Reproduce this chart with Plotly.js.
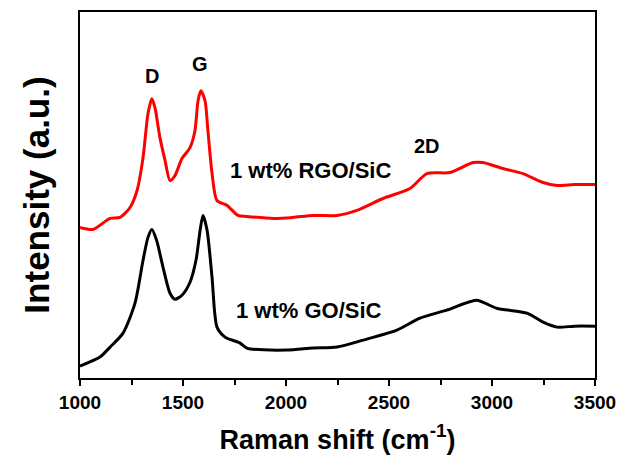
<!DOCTYPE html>
<html>
<head>
<meta charset="utf-8">
<script src="https://cdn.plot.ly/plotly-3.0.1.min.js"></script>
<style>html,body{margin:0;padding:0;background:#fff;}#chart{width:626px;height:470px;}</style>
</head>
<body>
<div id="chart"></div>
<script>
// Raman shift (cm^-1) and intensity (a.u.)
const rgoShift = [1000, 1063, 1146, 1194, 1243, 1277, 1306, 1330, 1349, 1364, 1388, 1413, 1437, 1461, 1495, 1534, 1558, 1573, 1587, 1607, 1621, 1641, 1665, 1714, 1767, 1810, 1938, 2034, 2131, 2248, 2344, 2471, 2602, 2684, 2796, 2908, 2956, 3053, 3150, 3248, 3316, 3400, 3500];
const rgoIntensity = [151, 149, 160, 161, 171, 188, 221, 265, 280, 271, 241, 218, 198, 203, 220, 231, 248, 278, 288, 278, 248, 205, 178, 173, 163, 162, 160, 161, 163, 163, 168, 180, 190, 205, 206, 216, 216, 210, 205, 196, 193, 194, 194];

const goShift = [1000, 1097, 1146, 1209, 1267, 1306, 1330, 1349, 1372, 1403, 1437, 1461, 1495, 1534, 1563, 1583, 1597, 1617, 1641, 1665, 1704, 1777, 1810, 2004, 2131, 2248, 2375, 2538, 2650, 2780, 2925, 3022, 3170, 3248, 3316, 3400, 3500];
const goIntensity = [12, 21, 31, 45, 75, 118, 141, 149, 138, 111, 85, 79, 83, 96, 118, 148, 163, 148, 101, 51, 41, 35, 30, 28, 30, 31, 38, 48, 60, 68, 78, 70, 65, 56, 51, 52, 52];

const xTickVals = [1000, 1500, 2000, 2500, 3000, 3500];
const xTickText = ['1000', '1500', '2000', '2500', '3000', '3500'];

const peakLabels = ['D', 'G', '2D'];
const peakX = [1350, 1583, 2683];
const peakY = [303, 315, 233];

const sampleLabels = ['1 wt% RGO/SiC', '1 wt% GO/SiC'];
const sampleX = [2121, 2112];
const sampleY = [208, 68];

const FONT = 'Liberation Sans, Arial, sans-serif';

const traces = [
  {x: rgoShift, y: rgoIntensity, mode: 'lines', name: '1 wt% RGO/SiC',
   line: {color: '#ff0000', width: 3, shape: 'spline', smoothing: 0.7}},
  {x: goShift, y: goIntensity, mode: 'lines', name: '1 wt% GO/SiC',
   line: {color: '#000000', width: 3, shape: 'spline', smoothing: 0.7}}
];

const annotations = [];
peakLabels.forEach((t, i) => annotations.push({
  x: peakX[i], y: peakY[i], xref: 'x', yref: 'y', text: '<b>' + t + '</b>',
  showarrow: false, font: {family: FONT, size: 20, color: '#000'}
}));
sampleLabels.forEach((t, i) => annotations.push({
  x: sampleX[i], y: sampleY[i], xref: 'x', yref: 'y', text: '<b>' + t + '</b>',
  showarrow: false, font: {family: FONT, size: 22, color: '#000'}
}));

const layout = {
  width: 626, height: 470,
  margin: {l: 80, r: 31, t: 12, b: 92},
  paper_bgcolor: '#ffffff', plot_bgcolor: '#ffffff',
  showlegend: false,
  xaxis: {
    range: [1000, 3500],
    tickvals: xTickVals, ticktext: xTickText,
    ticks: 'outside', ticklen: 6, tickwidth: 2, tickcolor: '#000',
    minor: {dtick: 250, tick0: 1000, ticks: 'outside', ticklen: 5, tickwidth: 2, tickcolor: '#000'},
    showline: true, linewidth: 2, linecolor: '#000', mirror: true,
    showgrid: false, zeroline: false,
    tickfont: {family: FONT, size: 19, color: '#000', weight: 'bold'},
    title: {text: '<b>Raman shift (cm<sup>-1</sup>)</b>', font: {family: FONT, size: 27, color: '#000'}, standoff: 18}
  },
  yaxis: {
    range: [0, 367],
    showticklabels: false, ticks: '',
    showline: true, linewidth: 2, linecolor: '#000', mirror: true,
    showgrid: false, zeroline: false,
    title: {text: '<b>Intensity (a.u.)</b>', font: {family: FONT, size: 35, color: '#000'}, standoff: 18}
  },
  annotations: annotations
};

Plotly.newPlot('chart', traces, layout, {staticPlot: true, displayModeBar: false});
</script>
</body>
</html>
